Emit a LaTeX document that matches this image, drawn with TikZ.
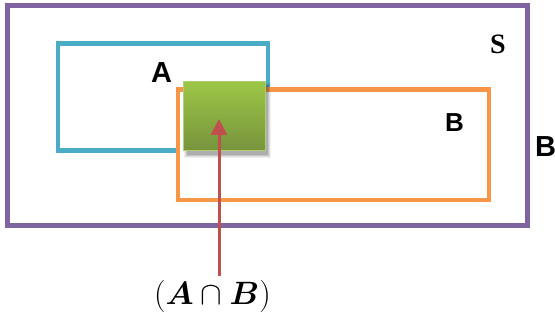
\documentclass[tikz,border=0pt]{standalone}
\usepackage{amsmath}
\usepackage{graphicx}
\usepackage{fontspec}
\newfontfamily\arialbf{Liberation Sans}[BoldFont={* Bold}]
\newfontfamily\timesbf{Liberation Serif}[BoldFont={* Bold}]
\usetikzlibrary{arrows.meta}
\definecolor{sPurple}{HTML}{8064A2}
\definecolor{aBlue}{HTML}{4BACC6}
\definecolor{bOrange}{HTML}{F79646}
\definecolor{arrRed}{HTML}{C0504D}
\definecolor{gTop}{HTML}{9DC646}
\definecolor{gBot}{HTML}{76933C}
\definecolor{gEdge}{HTML}{AFCF72}
\tikzset{
  setbox/.style={draw, inner sep=0pt, outer sep=0pt, rectangle, line width=4.5pt},
  lbl/.style={inner sep=0pt, outer sep=0pt, anchor=base west, font=\arialbf\bfseries\fontsize{29}{32}\selectfont},
  arr/.style={draw=arrRed, line width=3pt, -{Triangle[width=16pt,length=16pt]}}
}
\begin{document}
\begin{tikzpicture}[x=1pt,y=-1pt]
\useasboundingbox (0,0) rectangle (555,320);
% universal set
\node[setbox, draw=sPurple, line width=5pt, minimum width=520pt, minimum height=220.5pt] (S) at (267,115.75) {};
% set A
\node[setbox, draw=aBlue, minimum width=210pt, minimum height=107pt] (A) at (163,97) {};
% set B (white fill hides A inside it)
\node[setbox, draw=bOrange, fill=white, minimum width=311pt, minimum height=110.5pt] (B) at (333.5,144.75) {};
% shadow of intersection
\foreach \d/\o in {5/0.06,4/0.08,3/0.10,2/0.12}{
  \fill[black, opacity=\o] (186-\d+3,85-\d+3) rectangle (265+\d+1,151+\d+2);
}
% intersection
\node[inner sep=0pt, outer sep=0pt, minimum width=82pt, minimum height=69pt, top color=gTop, bottom color=gBot, draw=gEdge, line width=1pt] (I) at (224,116.5) {};
% labels
\node[lbl] (la) at (151,83) {A};
\node[lbl, font=\arialbf\bfseries\fontsize{26}{28}\selectfont] (lb) at (445,132) {B};
\node[lbl] (lb2) at (535,157) {B};
\node[inner sep=0pt, outer sep=0pt, anchor=base west, font=\timesbf\bfseries\fontsize{28}{30}\selectfont] (ls) at (490,54) {S};
\node[inner sep=0pt, outer sep=0pt, anchor=base] (lab) at (212.5,305) {\scalebox{1.3}{\fontsize{24.88}{30}\selectfont$(\boldsymbol{A}\cap\boldsymbol{B})$}};
% arrow
\coordinate (tail) at (219,276);
\coordinate (tip) at (219,119);
\draw[arr] (tail) -- (tip);
\end{tikzpicture}
\end{document}
